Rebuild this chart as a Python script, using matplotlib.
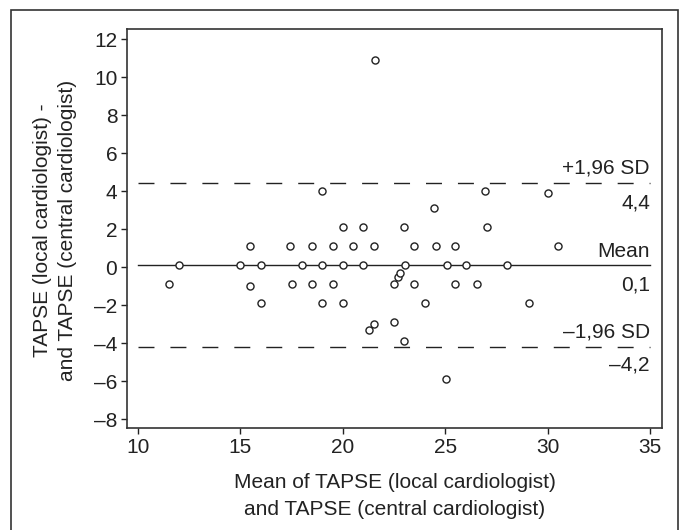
import matplotlib
matplotlib.use("Agg")
import matplotlib.pyplot as plt
from matplotlib.patches import Rectangle

plt.rcParams['font.family'] = ['Liberation Sans', 'DejaVu Sans']

mean_x = [11.5, 12.0, 15.0, 15.45, 15.45, 16.0, 16.0, 17.4, 17.5, 18.0,
          18.5, 18.5, 19.0, 19.0, 19.0, 19.5, 19.5, 20.0, 20.0, 20.0,
          20.5, 21.0, 21.0, 21.3, 21.5, 21.5, 21.55, 22.5, 22.5, 22.7,
          22.8, 23.0, 23.05, 23.0, 23.5, 23.5, 24.0, 24.45, 24.55, 25.03,
          25.08, 25.5, 25.5, 26.04, 26.57, 26.96, 27.04, 28.03, 29.08, 30.04,
          30.49]
diff_y = [-0.9, 0.1, 0.1, 1.1, -1.0, 0.1, -1.9, 1.1, -0.9, 0.1,
          1.1, -0.9, 4.0, 0.1, -1.9, 1.1, -0.9, 2.1, 0.1, -1.9,
          1.1, 2.1, 0.1, -3.3, 1.1, -3.0, 10.9, -0.9, -2.9, -0.5,
          -0.3, 2.1, 0.1, -3.9, 1.1, -0.9, -1.9, 3.1, 1.1, -5.9,
          0.1, 1.1, -0.9, 0.1, -0.9, 4.0, 2.1, 0.1, -1.9, 3.9,
          1.1]

mean_diff = 0.1
upper_loa = 4.4
lower_loa = -4.2
line_labels = ["+1,96 SD", "4,4", "Mean", "0,1", "\u20131,96 SD", "\u20134,2"]
xticks = [10, 15, 20, 25, 30, 35]
yticks = [-8, -6, -4, -2, 0, 2, 4, 6, 8, 10, 12]
xlabel = "Mean of TAPSE (local cardiologist)\nand TAPSE (central cardiologist)"
ylabel = "TAPSE (local cardiologist) -\nand TAPSE (central cardiologist)"

W, H = 686, 530
fig = plt.figure(figsize=(W / 100, H / 100), dpi=100)
ax = fig.add_axes([127 / W, 1 - 428 / H, (662 - 127) / W, (428 - 29) / H])

tc = '#222222'
ax.set_xlim(9.46, 35.59)
ax.set_ylim(-8.47, 12.53)

ax.plot([10, 35], [mean_diff, mean_diff], color=tc, lw=1.0, zorder=1)
for v in (upper_loa, lower_loa):
    ax.plot([10, 35], [v, v], color=tc, lw=1.0, dashes=(11.5, 11.5), zorder=1)

ax.scatter(mean_x, diff_y, s=26, facecolors='white', edgecolors=tc, linewidths=1.0, zorder=3)

fs = 15
up = 0.3
dn = 0.55
ax.text(35, upper_loa + up, line_labels[0], ha='right', va='bottom', fontsize=fs, color=tc)
ax.text(35, upper_loa - dn, line_labels[1], ha='right', va='top', fontsize=fs, color=tc)
ax.text(35, mean_diff + up - 0.1, line_labels[2], ha='right', va='bottom', fontsize=fs, color=tc)
ax.text(35, mean_diff - dn, line_labels[3], ha='right', va='top', fontsize=fs, color=tc)
ax.text(35, lower_loa + up, line_labels[4], ha='right', va='bottom', fontsize=fs, color=tc)
ax.text(35, lower_loa - dn + 0.1, line_labels[5], ha='right', va='top', fontsize=fs, color=tc)

ax.set_xticks(xticks)
ax.set_yticks(yticks)
ax.set_xticklabels([str(t) for t in xticks])
ax.set_yticklabels([str(t).replace('-', '\u2013') for t in yticks])
ax.tick_params(direction='out', length=4, width=1, colors=tc, labelsize=fs, pad=3)
for s in ax.spines.values():
    s.set_color('#333333')
    s.set_linewidth(1.2)

fig.text(395 / W, 1 - 496 / H, xlabel, ha='center', va='center', fontsize=fs,
         color=tc, linespacing=1.5)
fig.text(55 / W, 1 - 230 / H, ylabel, ha='center', va='center', rotation=90,
         fontsize=fs, color=tc, linespacing=1.4)

fig.patches.append(Rectangle((11 / W, -0.05), (678 - 11) / W, 1 - 10 / H + 0.05,
                             transform=fig.transFigure, fill=False,
                             edgecolor='#333333', lw=1.2))

fig.savefig("out.png", dpi=100)
